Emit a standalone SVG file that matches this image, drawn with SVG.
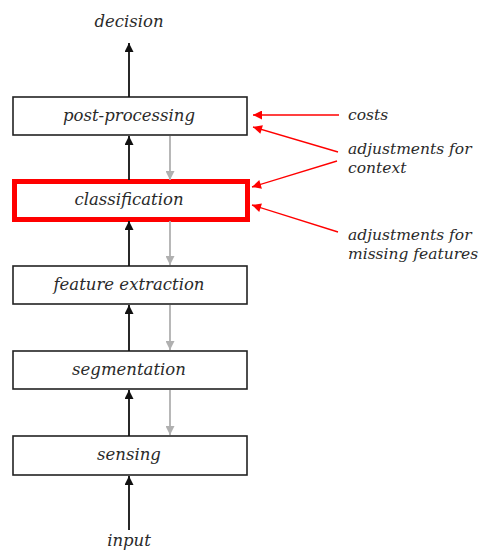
<svg xmlns="http://www.w3.org/2000/svg" width="487" height="552" viewBox="0 0 487 552">
  <style>
    .box { fill: #fff; stroke: #222; stroke-width: 1.6; }
    .hot { fill: #fff; stroke: #ff0000; stroke-width: 5; }
    .lbl { font-family: "DejaVu Serif", "Liberation Serif", serif; font-style: italic; font-size: 16.5px; fill: #2a2a2a; }
    .side { font-size: 15.5px; }
    .mid { text-anchor: middle; }
    .up { stroke: #111; stroke-width: 1.8; fill: none; }
    .down { stroke: #b0b0b0; stroke-width: 1.8; fill: none; }
    .note { stroke: #ff0000; stroke-width: 1.4; fill: none; }
  </style>
  <defs>
    <marker id="head-up" viewBox="0 0 10 10" refX="10" refY="5" markerWidth="10" markerHeight="9" markerUnits="userSpaceOnUse" orient="auto">
      <path d="M0,0 L10,5 L0,10 Z" fill="#111"/>
    </marker>
    <marker id="head-down" viewBox="0 0 10 10" refX="10" refY="5" markerWidth="10" markerHeight="9" markerUnits="userSpaceOnUse" orient="auto">
      <path d="M0,0 L10,5 L0,10 Z" fill="#b0b0b0"/>
    </marker>
    <marker id="head-red" viewBox="0 0 10 10" refX="10" refY="5" markerWidth="14" markerHeight="9" markerUnits="userSpaceOnUse" orient="auto">
      <path d="M0,0 L10,5 L0,10 Z" fill="#ff0000"/>
    </marker>
  </defs>

  <!-- processing stages -->
  <g id="decision">
    <text class="lbl mid" x="129" y="27">decision</text>
  </g>
  <g id="post-processing">
    <rect class="box" x="13" y="97" width="234" height="38"/>
    <text class="lbl mid" x="129" y="121">post-processing</text>
  </g>
  <g id="classification">
    <rect class="hot" x="14.5" y="181.5" width="233" height="38"/>
    <text class="lbl mid" x="129" y="205">classification</text>
  </g>
  <g id="feature-extraction">
    <rect class="box" x="13" y="266" width="234" height="38"/>
    <text class="lbl mid" x="129" y="290">feature extraction</text>
  </g>
  <g id="segmentation">
    <rect class="box" x="13" y="351" width="234" height="38"/>
    <text class="lbl mid" x="129" y="375">segmentation</text>
  </g>
  <g id="sensing">
    <rect class="box" x="13" y="436" width="234" height="39"/>
    <text class="lbl mid" x="129" y="460">sensing</text>
  </g>
  <g id="input">
    <text class="lbl mid" x="129" y="546">input</text>
  </g>

  <!-- side notes -->
  <g id="costs">
    <text class="lbl side" x="348" y="120">costs</text>
  </g>
  <g id="context">
    <text class="lbl side" x="348" y="154">adjustments for</text>
    <text class="lbl side" x="348" y="173">context</text>
  </g>
  <g id="missing">
    <text class="lbl side" x="348" y="240">adjustments for</text>
    <text class="lbl side" x="348" y="259">missing features</text>
  </g>

  <g id="connectors">
    <!-- upward data flow -->
    <line class="up" x1="129" y1="97" x2="129" y2="43" marker-end="url(#head-up)"/>
    <line class="up" x1="129" y1="180" x2="129" y2="136" marker-end="url(#head-up)"/>
    <line class="up" x1="129" y1="266" x2="129" y2="221" marker-end="url(#head-up)"/>
    <line class="up" x1="129" y1="351" x2="129" y2="305" marker-end="url(#head-up)"/>
    <line class="up" x1="129" y1="436" x2="129" y2="390" marker-end="url(#head-up)"/>
    <line class="up" x1="129" y1="530" x2="129" y2="476" marker-end="url(#head-up)"/>
    <!-- downward feedback -->
    <line class="down" x1="170" y1="136" x2="170" y2="180" marker-end="url(#head-down)"/>
    <line class="down" x1="170" y1="221" x2="170" y2="265" marker-end="url(#head-down)"/>
    <line class="down" x1="170" y1="305" x2="170" y2="350" marker-end="url(#head-down)"/>
    <line class="down" x1="170" y1="390" x2="170" y2="435" marker-end="url(#head-down)"/>
    <!-- external inputs -->
    <line class="note" x1="339" y1="115" x2="253" y2="115" marker-end="url(#head-red)"/>
    <line class="note" x1="338" y1="152" x2="253" y2="127" marker-end="url(#head-red)"/>
    <line class="note" x1="337" y1="161" x2="252" y2="187" marker-end="url(#head-red)"/>
    <line class="note" x1="338" y1="232" x2="252" y2="205" marker-end="url(#head-red)"/>
  </g>
</svg>
